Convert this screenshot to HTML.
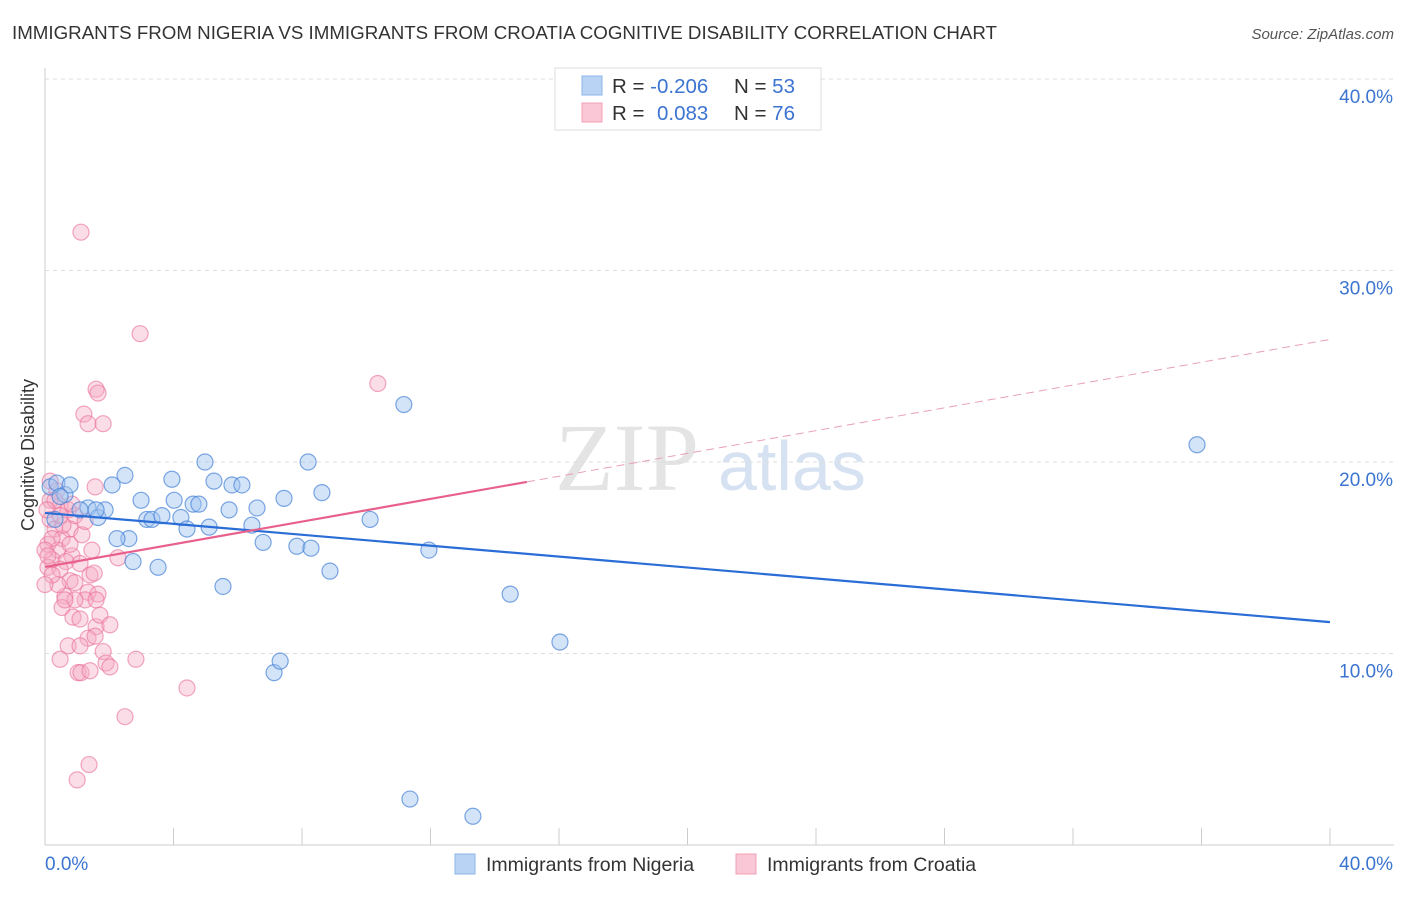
<!DOCTYPE html>
<html><head><meta charset="utf-8"><style>
body{margin:0;background:#fff;font-family:"Liberation Sans",sans-serif}
</style></head><body>
<svg id="c" width="1406" height="892" xmlns="http://www.w3.org/2000/svg">
<text x="12" y="39" font-size="18" fill="#333" textLength="985" lengthAdjust="spacingAndGlyphs">IMMIGRANTS FROM NIGERIA VS IMMIGRANTS FROM CROATIA COGNITIVE DISABILITY CORRELATION CHART</text>
<text x="1394" y="39" font-size="15" fill="#555" font-style="italic" text-anchor="end">Source: ZipAtlas.com</text>
<text x="555" y="490" font-size="96" fill="#e4e4e4" font-family="Liberation Serif">ZIP</text>
<text x="718" y="490" font-size="70" fill="#d6e2f2">atlas</text>
<g id="grid"></g><g id="pts"></g><g id="lines"></g>
<text transform="translate(34,455) rotate(-90)" font-size="18" fill="#333" text-anchor="middle">Cognitive Disability</text>
<g>
<rect x="555" y="68" width="266" height="62" fill="#fff" stroke="#ddd"/>
<rect x="582" y="76" width="20" height="19" fill="#b9d3f5" stroke="#8db4e8"/>
<rect x="582" y="103" width="20" height="19" fill="#f9c7d5" stroke="#f0a0b8"/>
<text x="612" y="93" font-size="20.5" fill="#333">R = <tspan fill="#3b74d1">-0.206</tspan></text>
<text x="734" y="93" font-size="20.5" fill="#333">N = <tspan fill="#3b74d1">53</tspan></text>
<text x="612" y="120" font-size="20.5" fill="#333">R = <tspan fill="#3b74d1" x="657">0.083</tspan></text>
<text x="734" y="120" font-size="20.5" fill="#333">N = <tspan fill="#3b74d1">76</tspan></text>
</g>
<g>
<rect x="455" y="854" width="20" height="20" fill="#b9d3f5" stroke="#8db4e8"/>
<text x="486" y="871" font-size="19.5" fill="#333">Immigrants from Nigeria</text>
<rect x="736" y="854" width="20" height="20" fill="#f9c7d5" stroke="#f0a0b8"/>
<text x="767" y="871" font-size="19.5" fill="#333">Immigrants from Croatia</text>
</g>
</svg>
<script>
const xTicks=[0,4,8,12,16,20,24,28,32,36,40];
const yTicks=[10,20,30,40];
const yTickLabels=["10.0%","20.0%","30.0%","40.0%"];
const blueX=[0.16,0.37,0.62,0.78,1.34,1.65,1.87,2.09,2.49,2.99,3.17,3.33,3.64,3.95,4.02,4.23,4.42,4.61,4.79,4.98,5.11,5.26,5.73,5.82,6.13,6.44,6.60,6.79,7.44,7.84,8.19,8.28,8.62,8.87,10.12,11.17,11.95,14.48,16.03,35.86,11.36,13.32,7.13,7.32,5.54,3.52,2.74,2.61,2.24,0.47,1.09,1.59,0.31];
const blueY=[18.7,18.9,18.3,18.8,17.6,17.1,17.5,18.8,19.3,18.0,17.0,17.0,17.2,19.1,18.0,17.1,16.5,17.8,17.8,20.0,16.6,19.0,17.5,18.8,18.8,16.7,17.6,15.8,18.1,15.6,20.0,15.5,18.4,14.3,17.0,23.0,15.4,13.1,10.6,20.9,2.4,1.5,9.0,9.6,13.5,14.5,14.8,16.0,16.0,18.2,17.5,17.5,17.0];
const pinkX=[1.12,2.96,10.36,1.59,1.65,1.21,1.34,1.81,0.16,0.37,1.56,0.47,0.72,0.93,0.16,0.31,0.78,0.53,0.09,0.40,0.84,0.22,0.65,1.09,0.09,0.47,2.27,1.40,1.53,0.78,0.93,1.34,1.65,1.25,1.59,0.62,0.53,0.87,1.09,1.59,1.34,1.56,0.72,1.09,1.81,0.47,2.83,1.90,2.02,1.03,1.12,1.40,4.42,2.49,1.00,1.37,0.16,0.31,0.06,0.22,0.00,0.56,0.78,0.09,0.93,0.40,0.62,1.71,2.02,0.22,0.00,1.15,0.47,0.84,1.25,1.46];
const pinkY=[32.0,26.7,24.1,23.8,23.6,22.5,22.0,22.0,19.0,18.5,18.7,17.7,17.5,17.2,17.0,16.5,16.5,16.0,15.7,15.4,15.1,14.9,14.8,14.7,14.5,14.4,15.0,14.1,14.2,13.8,13.7,13.2,13.1,12.8,12.8,13.0,12.4,11.9,11.8,11.4,10.8,10.9,10.4,10.4,10.1,9.7,9.7,9.5,9.3,9.0,9.0,9.1,8.2,6.7,3.4,4.2,18.0,18.0,17.5,16.0,15.4,16.7,15.7,15.1,12.8,13.6,12.8,12.0,11.5,14.1,13.6,16.2,17.2,17.8,16.9,15.4];
const blueLine=[[0,17.34],[40,11.64]];
const pinkLine=[[0,14.52],[15,18.96],[40,26.4]];
const X=v=>45+v*32.125, Y=v=>845-v*19.15;
const NS="http://www.w3.org/2000/svg";
function mk(t,a,p){const e=document.createElementNS(NS,t);for(const k in a)e.setAttribute(k,a[k]);p.appendChild(e);return e;}
const g=document.getElementById('grid');
let ax=mk('line',{x1:45,y1:68,x2:45,y2:845,stroke:'#ccc'},g);


let bx=mk('line',{x1:45,y1:845,x2:1394,y2:845,stroke:'#ccc'},g);


yTicks.forEach((t,i)=>{
 const l=mk('line',{x1:45,x2:1394,y1:Y(t),y2:Y(t),stroke:'#ddd','stroke-dasharray':'4,4'},g);
 
 
 const tx=mk('text',{x:1393,y:Y(t)+24,'font-size':19,fill:'#3b74d1','text-anchor':'end'},g);tx.textContent=yTickLabels[i];
 
 
});
xTicks.forEach(t=>{const l=mk('line',{x1:X(t),x2:X(t),y1:828,y2:845,stroke:'#ccc'},g);
 
 });
let t0=mk('text',{x:45,y:870,'font-size':19,fill:'#3b74d1'},g);t0.textContent='0.0%';


let t1=mk('text',{x:1393,y:870,'font-size':19,fill:'#3b74d1','text-anchor':'end'},g);t1.textContent='40.0%';


const p=document.getElementById('pts');
pinkX.forEach((v,i)=>{const c=mk('circle',{cx:X(v),cy:Y(pinkY[i]),r:8,fill:'rgba(246,170,194,0.4)',stroke:'rgba(234,110,150,0.6)','stroke-width':1.2},p);
 
 });
blueX.forEach((v,i)=>{const c=mk('circle',{cx:X(v),cy:Y(blueY[i]),r:8,fill:'rgba(160,195,240,0.45)',stroke:'rgba(70,130,215,0.7)','stroke-width':1.2},p);
 
 });
const L=document.getElementById('lines');
let bl=mk('line',{x1:X(blueLine[0][0]),y1:Y(blueLine[0][1]),x2:X(blueLine[1][0]),y2:Y(blueLine[1][1]),stroke:'#2a6dd6','stroke-width':2.2},L);


let pl=mk('line',{x1:X(pinkLine[0][0]),y1:Y(pinkLine[0][1]),x2:X(pinkLine[1][0]),y2:Y(pinkLine[1][1]),stroke:'#e8608c','stroke-width':2.2},L);


let pd=mk('line',{x1:X(pinkLine[1][0]),y1:Y(pinkLine[1][1]),x2:X(pinkLine[2][0]),y2:Y(pinkLine[2][1]),stroke:'#e8a0b8','stroke-width':1,'stroke-dasharray':'8,5'},L);


</script>
</body></html>
